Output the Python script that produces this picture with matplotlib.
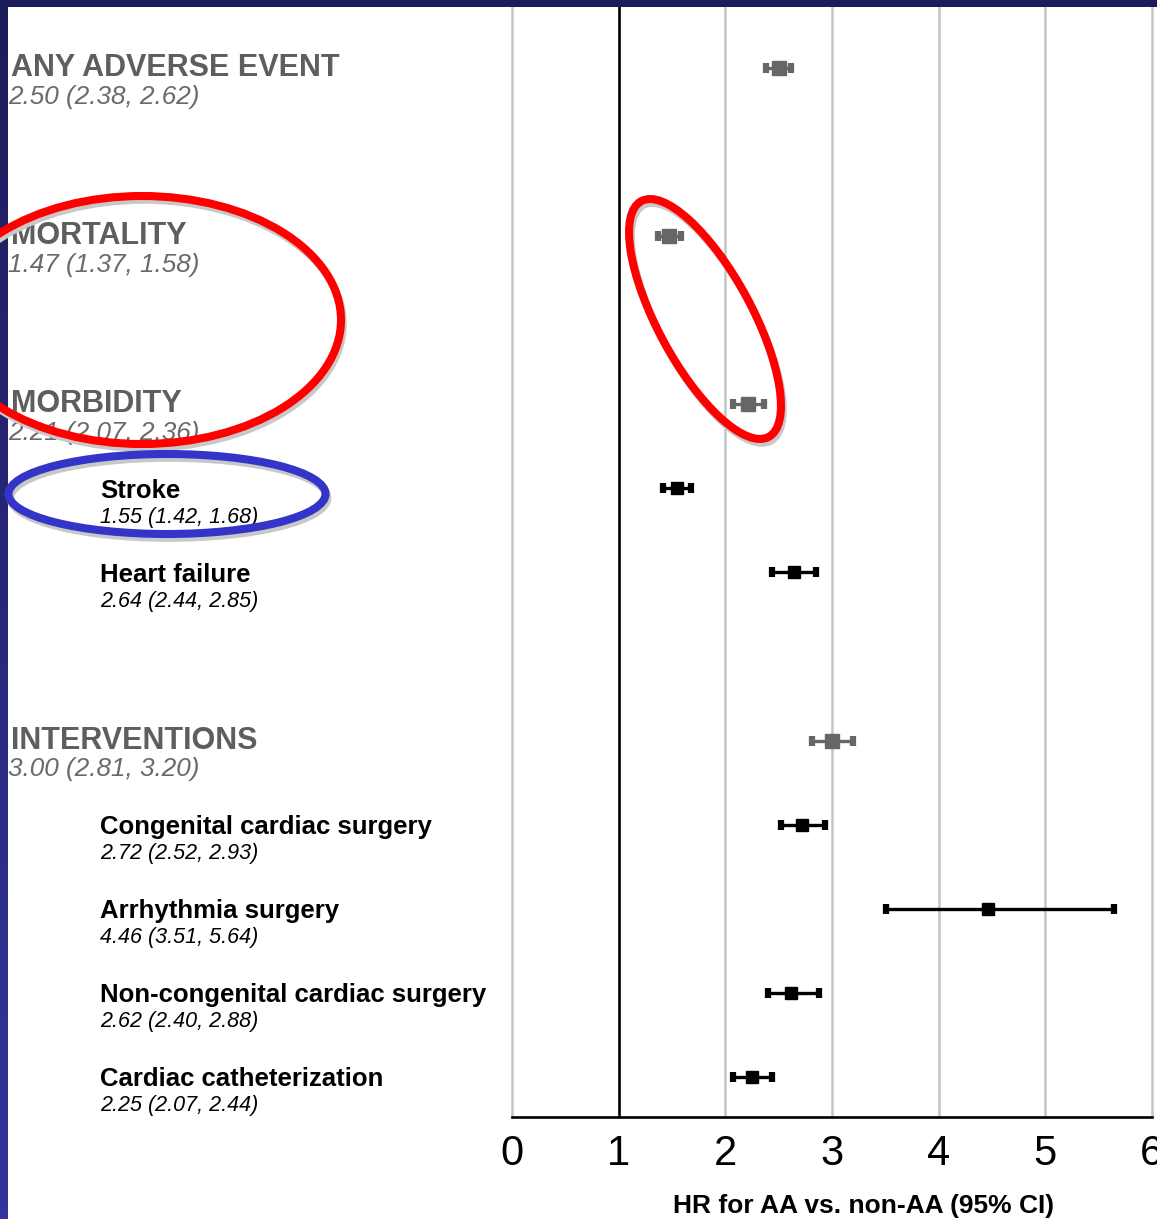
import numpy as np
import matplotlib
matplotlib.use('Agg')
import matplotlib.pyplot as plt
from matplotlib.patches import Ellipse
from matplotlib.transforms import Affine2D, blended_transform_factory

# forest plot data (HR for AA vs non-AA, 95% CI)
names = ['ANY ADVERSE EVENT', 'MORTALITY', 'MORBIDITY', 'Stroke', 'Heart failure',
         'INTERVENTIONS', 'Congenital cardiac surgery', 'Arrhythmia surgery',
         'Non-congenital cardiac surgery', 'Cardiac catheterization']
hr = [2.50, 1.47, 2.21, 1.55, 2.64, 3.00, 2.72, 4.46, 2.62, 2.25]
lo = [2.38, 1.37, 2.07, 1.42, 2.44, 2.81, 2.52, 3.51, 2.40, 2.07]
hi = [2.62, 1.58, 2.36, 1.68, 2.85, 3.20, 2.93, 5.64, 2.88, 2.44]
is_group = [True, True, True, False, False, True, False, False, False, False]
rows = [0, 2, 4, 5, 6, 8, 9, 10, 11, 12]
xticks = [0, 1, 2, 3, 4, 5, 6]
xlabel = 'HR for AA vs. non-AA (95% CI)'

W, H = 1157, 1219
fig = plt.figure(figsize=(W / 100, H / 100), dpi=100)
fig.patch.set_facecolor('white')

ax = fig.add_axes([512 / W, 102 / H, 640 / W, 1117 / H])
ax.set_xlim(0, 6)
ax.set_ylim(12.476, -0.809)
for s in ['top', 'left', 'right']:
    ax.spines[s].set_visible(False)
ax.spines['bottom'].set_linewidth(1.9)
ax.spines['bottom'].set_color('black')
ax.set_yticks([])
ax.set_xticks(xticks)
ax.set_xticklabels([str(t) for t in xticks], family=['Liberation Sans Narrow', 'Liberation Sans'])
ax.tick_params(axis='x', length=0, pad=12, labelsize=30)

for t in xticks:
    if t == 1:
        ax.axvline(t, color='black', lw=1.9, zorder=2)
    else:
        ax.axvline(t, color='#c4c4c4', lw=1.8, zorder=1, clip_on=False)

for i in range(len(names)):
    c = '#666666' if is_group[i] else 'black'
    ax.errorbar(hr[i], rows[i], xerr=[[hr[i] - lo[i]], [hi[i] - hr[i]]], fmt='s',
                color=c, ms=9.5 if is_group[i] else 9, elinewidth=2.4,
                capsize=3.5, capthick=4.5, zorder=3)

# labels on the left
tr = blended_transform_factory(fig.transFigure, ax.transData)
stats = ['%.2f (%.2f, %.2f)' % (hr[i], lo[i], hi[i]) for i in range(len(names))]
for i in range(len(names)):
    if is_group[i]:
        ax.text(11 / W, rows[i] + 0.0, names[i], transform=tr, fontsize=22, fontweight='bold',
                color='#5e5e5e', va='center', ha='left', family='Liberation Sans')
        ax.text(8 / W, rows[i] + 0.34, stats[i], transform=tr, fontsize=18.8, style='italic',
                color='#6a6a6a', va='center', ha='left', family='Liberation Sans')
    else:
        ax.text(100 / W, rows[i] + 0.025, names[i], transform=tr, fontsize=18.5, fontweight='bold',
                color='black', va='center', ha='left', family='Liberation Sans')
        ax.text(100 / W, rows[i] + 0.34, stats[i], transform=tr, fontsize=15.5, style='italic',
                color='black', va='center', ha='left', family='Liberation Sans')

fig.text(864 / W, 1 - 1206 / H, xlabel, fontsize=19, fontweight='bold', ha='center', va='center',
         family=['Liberation Sans Narrow', 'Liberation Sans'])

# hand drawn circles (image pixel coords, y down)
pix = Affine2D().scale(1, -1).translate(0, H).scale(1 / W, 1 / H) + fig.transFigure
circles = [((142, 320), 398, 248, 0, '#ff0000'),
           ((705, 319), 268, 94, 61.6, '#ff0000'),
           ((167, 494), 317, 80, 0, '#3434c8')]
for (cx, cy), w, h, ang, col in circles:
    fig.patches.append(Ellipse((cx + 2, cy + 4), w, h, angle=ang, fill=False, ec='#c8c8c8',
                               lw=5.5, transform=pix, zorder=8))
    fig.patches.append(Ellipse((cx, cy), w, h, angle=ang, fill=False, ec=col,
                               lw=5.8, transform=pix, zorder=9))

# slide border
grad = np.linspace(0, 1, 200).reshape(-1, 1)
bax = fig.add_axes([0, 0, 8 / W, 1])
bax.imshow(grad, aspect='auto', cmap=matplotlib.colors.LinearSegmentedColormap.from_list(
    'b', ['#1c1c5a', '#34349c']))
bax.axis('off')
tax = fig.add_axes([0, 1 - 7 / H, 1, 7 / H])
tax.set_facecolor('#1c1c58')
tax.set_xticks([])
tax.set_yticks([])
for s in tax.spines.values():
    s.set_visible(False)

fig.savefig('out.png', dpi=100)
